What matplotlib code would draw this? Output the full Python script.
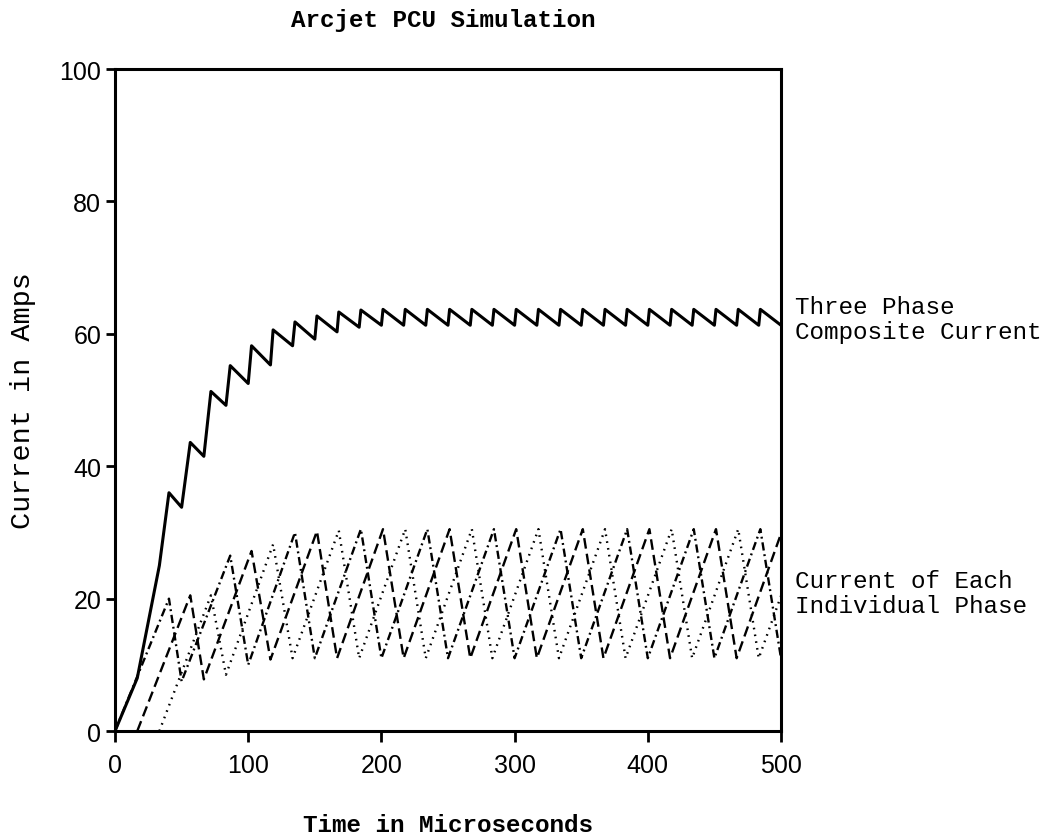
import matplotlib.pyplot as plt

# composite current of the three phases (vertices of the sawtooth)
t_comp = [0, 16.7, 33.3, 40.5, 50.0, 56.5, 66.7, 72.0, 83.3, 86.5,
          100.0, 102.5, 116.7, 118.7, 133.3, 135.1, 150.0, 151.6, 166.7, 168.0,
          183.3, 184.6, 200.0, 201.2, 216.7, 217.9, 233.3, 234.5, 250.0, 251.2,
          266.7, 267.9, 283.3, 284.5, 300.0, 301.2, 316.7, 317.9, 333.3, 334.5,
          350.0, 351.2, 366.7, 367.9, 383.3, 384.5, 400.0, 401.2, 416.7, 417.9,
          433.3, 434.5, 450.0, 451.2, 466.7, 467.9, 483.3, 484.5, 500.0]
i_comp = [0, 8.0, 25.0, 36.0, 33.8, 43.6, 41.5, 51.3, 49.2, 55.2,
          52.5, 58.2, 55.3, 60.6, 58.2, 61.8, 59.2, 62.7, 60.3, 63.3,
          61.0, 63.6, 61.3, 63.7, 61.3, 63.7, 61.3, 63.7, 61.3, 63.7,
          61.3, 63.7, 61.3, 63.7, 61.3, 63.7, 61.3, 63.7, 61.3, 63.7,
          61.3, 63.7, 61.3, 63.7, 61.3, 63.7, 61.3, 63.7, 61.3, 63.7,
          61.3, 63.7, 61.3, 63.7, 61.3, 63.7, 61.3, 63.7, 61.3]

# individual phases
t_ph1 = [0, 40.5, 50.0, 86.5, 100.0, 135.1, 150.0, 184.6, 200.0, 234.5, 250.0,
         284.5, 300.0, 334.5, 350.0, 384.5, 400.0, 434.5, 450.0, 484.5, 500.0]
i_ph1 = [0, 20.0, 7.5, 26.5, 10.0, 30.0, 11.0, 30.5, 11.0, 30.5, 11.0,
         30.5, 11.0, 30.5, 11.0, 30.5, 11.0, 30.5, 11.0, 30.5, 11.0]

t_ph2 = [16.7, 56.5, 66.7, 102.5, 116.7, 151.6, 166.7, 201.2, 216.7, 251.2,
         266.7, 301.2, 316.7, 351.2, 366.7, 401.2, 416.7, 451.2, 466.7, 500.0]
i_ph2 = [0, 20.5, 7.8, 27.2, 10.8, 30.2, 11.0, 30.5, 11.0, 30.5,
         11.0, 30.5, 11.0, 30.5, 11.0, 30.5, 11.0, 30.5, 11.0, 29.8]

t_ph3 = [33.3, 72.0, 83.3, 118.7, 133.3, 168.0, 183.3, 217.9, 233.3, 267.9,
         283.3, 317.9, 333.3, 367.9, 383.3, 417.9, 433.3, 467.9, 483.3, 500.0]
i_ph3 = [0, 20.5, 8.5, 28.2, 11.0, 30.3, 11.0, 30.5, 11.0, 30.5,
         11.0, 30.5, 11.0, 30.5, 11.0, 30.5, 11.0, 30.5, 11.0, 20.4]

x_ticks = [0, 100, 200, 300, 400, 500]
y_ticks = [0, 20, 40, 60, 80, 100]

mono = ['Liberation Mono', 'DejaVu Sans Mono']
sans = ['Liberation Sans', 'DejaVu Sans']

fig = plt.figure(figsize=(10.62, 8.37), dpi=100)
ax = fig.add_axes([0.1083, 0.1254, 0.6271, 0.7909])

ax.plot(t_comp, i_comp, color='black', lw=2.2)
ax.plot(t_ph1, i_ph1, color='black', lw=1.7, linestyle=(0, (3.5, 1.6, 0.8, 1.6)))
ax.plot(t_ph2, i_ph2, color='black', lw=1.7, linestyle=(0, (4.5, 2.2)))
ax.plot(t_ph3, i_ph3, color='black', lw=1.7, linestyle=(0, (0.7, 2.2)))

ax.set_xlim(0, 500)
ax.set_ylim(0, 100)
ax.set_xticks(x_ticks)
ax.set_yticks(y_ticks)
for s in ax.spines.values():
    s.set_linewidth(2.2)
ax.tick_params(axis='x', length=8, width=2, pad=8, labelsize=18)
ax.tick_params(axis='y', length=6.5, width=2, pad=3.5, labelsize=18)
for lab in ax.get_xticklabels() + ax.get_yticklabels():
    lab.set_family(sans)

ax.set_xlabel('Time in Microseconds', family=mono, fontsize=17.5,
              fontweight='bold', labelpad=26)
ax.set_ylabel('Current in Amps', family=mono, fontsize=20.5, labelpad=17)

fig.text(443 / 1062, 1 - 21 / 837, 'Arcjet PCU Simulation', family=mono,
         fontsize=17.5, fontweight='bold', ha='center', va='center')

ax.text(510.5, 62.2, 'Three Phase\nComposite Current', family=mono,
        fontsize=17.5, ha='left', va='center', linespacing=1.1, clip_on=False)
ax.text(510.5, 20.8, 'Current of Each\nIndividual Phase', family=mono,
        fontsize=17.5, ha='left', va='center', linespacing=1.1, clip_on=False)

fig.savefig('out.png', dpi=100)
